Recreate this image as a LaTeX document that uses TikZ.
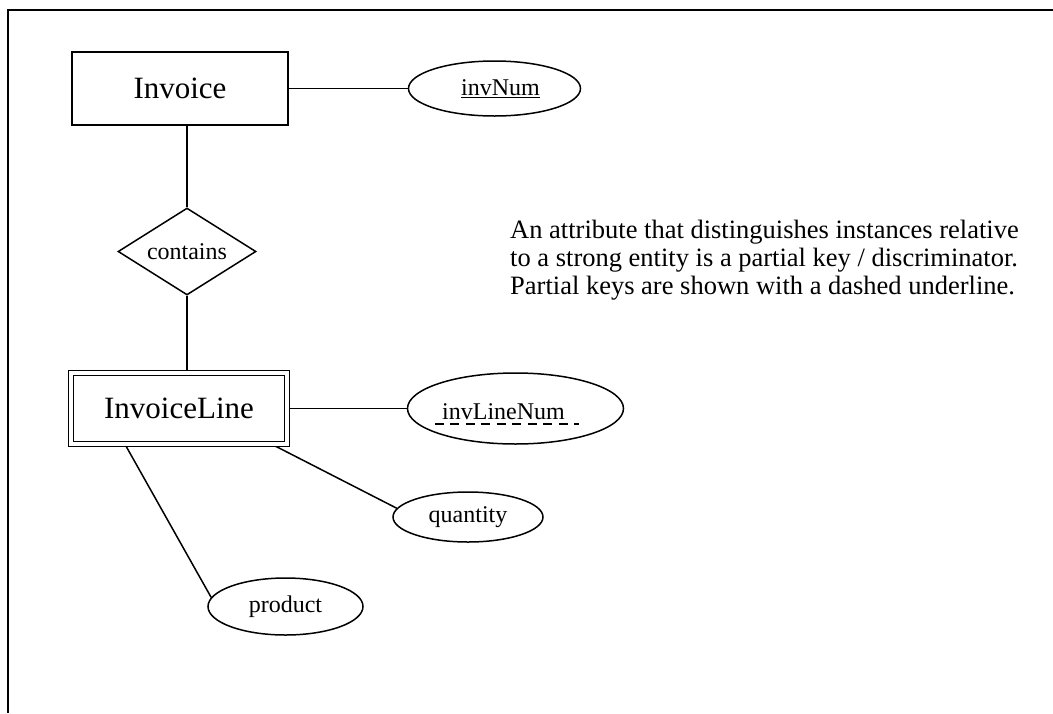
\documentclass[tikz,border=0pt]{standalone}
\usepackage{fontspec}
\setmainfont{Liberation Serif}
\usetikzlibrary{shapes.geometric, positioning, backgrounds}

\begin{document}
\begin{tikzpicture}[
  x=1pt, y=-1pt,
  entity/.style={
    rectangle, draw, line width=1.5pt, minimum width=216pt,
    minimum height=73pt, inner sep=0pt, font=\fontsize{31}{36}\selectfont
  },
  weakentity/.style={entity, double, double distance=3.4pt, minimum height=71pt},
  relship/.style={
    diamond, draw, line width=1.5pt, aspect=1.6, inner sep=1pt,
    minimum width=138pt, minimum height=87pt, font=\fontsize{24}{28}\selectfont
  },
  attr/.style={ellipse, draw, line width=1.5pt, inner sep=0pt, font=\fontsize{24}{28}\selectfont},
  link/.style={line width=1.5pt},
  note/.style={font=\fontsize{26.5}{28}\selectfont, align=left, inner sep=0pt}
]
\useasboundingbox (0,0) rectangle (1053,713);

% Frame
\draw[line width=2.5pt] (8,713) -- (8,10) -- (1053,10);

% Entities and relationship
\node[entity] (inv) at (180,88.5) {Invoice};
\node[relship] (cont) at (187,251.5) {contains};
\node[weakentity] (il) at (179,408.5) {InvoiceLine};

% Attributes
\node[attr, minimum width=172pt, minimum height=55pt, right=119pt of inv] (inum) {\hspace*{12pt}\underline{invNum}};
\node[attr, minimum width=216pt, minimum height=71pt, right=119pt of il] (iln) {};
\node[attr, minimum width=150pt, minimum height=50pt] (qty) at (468,517) {quantity};
\node[attr, minimum width=155pt, minimum height=57pt] (prod) at (285.5,606.5) {product};

% Partial key with dashed underline
\node[inner sep=0pt, font=\fontsize{24}{28}\selectfont] (ilnt) at ([xshift=-12pt, yshift=-3pt]iln.center) {invLineNum};
\draw[line width=2pt, dash pattern=on 9pt off 6.5pt]
  ([xshift=-7pt, yshift=-5pt]ilnt.base west) -- ([xshift=14pt, yshift=-5pt]ilnt.base east);

% Note
\node[note, anchor=north west] (note) at (510,220) {An attribute that distinguishes instances relative\\to a strong entity is a partial key / discriminator.\\Partial keys are shown with a dashed underline.};

% Connectors
\begin{scope}[on background layer]
\draw[link] (inv.east) -- (inum.west);
\draw[link] (cont.north) -- (cont |- inv.south);
\draw[link] (cont.south) -- (cont |- il.north);
\draw[link] (il.east) -- (iln.west);
\draw[link] ([xshift=-15pt]il.south east) -- (qty.173);
\draw[link] ([xshift=55pt]il.south west) -- (prod.173);
\end{scope}

\end{tikzpicture}
\end{document}
